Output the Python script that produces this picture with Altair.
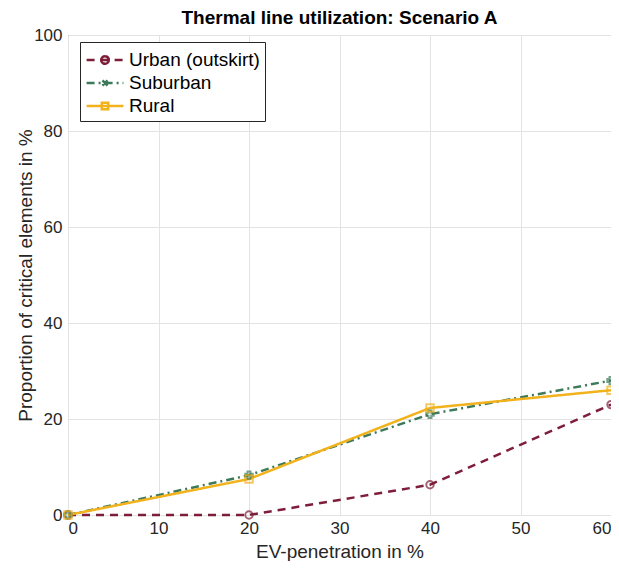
import altair as alt
import pandas as pd

x_vals = [0, 20, 40, 60]
series = ["Urban (outskirt)", "Suburban", "Rural"]
urban = [0.0, 0.0, 6.3, 23.0]
suburban = [0.0, 8.3, 21.0, 28.0]
rural = [0.0, 7.5, 22.3, 26.0]
colors = ["#7E1E3B", "#3D7A5A", "#F2B21C"]
dashes = [[8, 6], [8, 4, 2, 4], [1, 0]]
shapes = ["circle", "cross", "square"]

rows = []
for name, vals in zip(series, [urban, suburban, rural]):
    for xv, yv in zip(x_vals, vals):
        rows.append({"x": xv, "y": yv, "series": name})
df = pd.DataFrame(rows)

FONT = "Liberation Sans"
TXT = "#262626"

# legend glyphs: line segment with the series marker in the middle
LINE = "M-1.6,0L1.6,0"
CIRC_LOOP = "A0.33,0.33 0 1,1 -0.33,0A0.33,0.33 0 1,1 0.33,0"
CIRC = "M0.33,0" + CIRC_LOOP * 3  # repeated so the dash pattern leaves no gap
SQR = "M-0.28,-0.28L0.28,-0.28L0.28,0.28L-0.28,0.28Z"
XMK = "M-0.22,-0.22L0.22,0.22M-0.22,0.22L0.22,-0.22"
legend_glyphs = [f"{LINE} {CIRC}", f"{LINE} {XMK}", f"{LINE} {SQR}"]

color_scale = alt.Scale(domain=series, range=colors)

xenc = alt.X("x:Q", scale=alt.Scale(domain=[0, 60], nice=False),
             axis=alt.Axis(title="EV-penetration in %", values=[0, 10, 20, 30, 40, 50, 60],
                           format="d"))
yenc = alt.Y("y:Q", scale=alt.Scale(domain=[0, 100], nice=False),
             axis=alt.Axis(title="Proportion of critical elements in %",
                           values=[0, 20, 40, 60, 80, 100]))
color = alt.Color("series:N", scale=color_scale,
                  legend=alt.Legend(title=None, orient="none", legendX=12, legendY=7,
                                    symbolType="stroke", symbolStrokeWidth=2.5, symbolSize=529,
                                    symbolOffset=7, labelOffset=11,
                                    labelFontSize=19, labelFont=FONT, labelColor="#000000",
                                    strokeColor="#262626", fillColor="white", padding=5,
                                    rowPadding=0))
dash = alt.StrokeDash("series:N", scale=alt.Scale(domain=series, range=dashes), legend=None)

lines = alt.Chart(df).mark_line(strokeWidth=2.5).encode(x=xenc, y=yenc, color=color,
                                                        strokeDash=dash)

# empty layer that only supplies the legend glyph shapes
legend_shapes = alt.Chart(df).transform_filter("false").mark_point(filled=False).encode(
    x="x:Q", y="y:Q",
    color=alt.Color("series:N", scale=color_scale, legend=None),
    shape=alt.Shape("series:N", scale=alt.Scale(domain=series, range=legend_glyphs), legend=None),
)

point_layers = []
for name, col, shp in zip(series, colors, shapes):
    point_layers.append(
        alt.Chart(df).transform_filter(alt.datum.series == name)
        .mark_point(filled=False, strokeWidth=2, size=55, color=col, shape=shp)
        .encode(x="x:Q", y="y:Q")
    )

chart = alt.layer(lines, legend_shapes, *point_layers).properties(
    width=543, height=480,
    title=alt.TitleParams("Thermal line utilization: Scenario A", fontSize=19, font=FONT,
                          fontWeight="bold", color="#000000", offset=-2),
    autosize=alt.AutoSizeParams(type="none"),
    padding={"left": 60, "top": 27, "right": 0, "bottom": 46},
).configure_axis(
    labelFont=FONT, labelFontSize=17, labelColor=TXT, titleFont=FONT, titleFontSize=19,
    titleColor=TXT, titleFontWeight="normal", grid=True, gridColor="#e3e3e3",
    domain=False, ticks=False, labelPadding=6,
).configure_axisY(titlePadding=-2).configure_axisX(titlePadding=6, labelPadding=5
).configure_view(stroke=TXT, strokeWidth=1)

chart.save("out.html", embed_options={"renderer": "svg", "actions": False})
